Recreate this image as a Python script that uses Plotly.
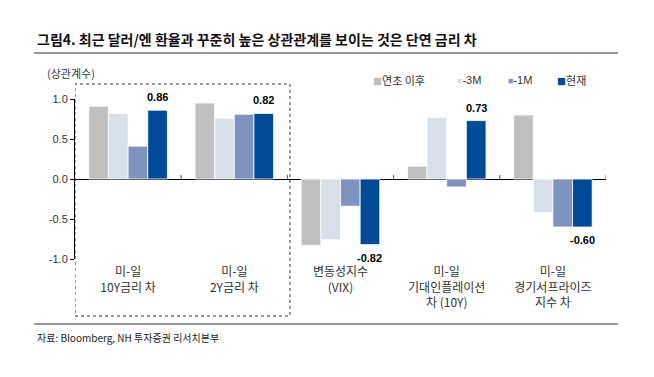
import plotly.graph_objects as go

categories = ["미-일<br>10Y금리 차", "미-일<br>2Y금리 차", "변동성지수<br>(VIX)",
              "미-일<br>기대인플레이션<br>차 (10Y)", "미-일<br>경기서프라이즈<br>지수 차"]
series_names = ["연초 이후", "-3M", "-1M", "현재"]
ytd = [0.91, 0.95, -0.83, 0.16, 0.80]
m3 = [0.82, 0.76, -0.76, 0.77, -0.42]
m1 = [0.41, 0.81, -0.34, -0.10, -0.60]
now = [0.86, 0.82, -0.82, 0.73, -0.60]
now_labels = ["0.86", "0.82", "-0.82", "0.73", "-0.60"]
yticks = [-1.0, -0.5, 0.0, 0.5, 1.0]
ytick_text = ["-1.0", "-0.5", "0.0", "0.5", "1.0"]

colors = ["#BFBFBF", "#D7DFE9", "#7F93BF", "#004A98"]
NFONT = "Liberation Sans, Arial, sans-serif"
KFONT = "Noto Sans CJK KR, sans-serif"

# reference pixel frame of plot area (page has an 8px body offset)
PX0, PX1, PY0, PY1 = 75, 606, 99, 259
BARGAP = 0.26


def px(v):
    return (v - PX0) / (PX1 - PX0)


def py(v):
    return (PY1 - v) / (PY1 - PY0)


x = list(range(len(categories)))
fig = go.Figure()
for name, vals, col in zip(series_names, [ytd, m3, m1, now], colors):
    fig.add_trace(go.Bar(x=x, y=vals, name=name,
                         marker=dict(color=col, line=dict(color="white", width=0.8)),
                         showlegend=False))

shapes = []
for b in [0.5, 1.5, 2.5, 3.5, 4.5]:
    shapes.append(dict(type="line", xref="x", yref="y", x0=b, x1=b, y0=0, y1=0.05,
                       line=dict(color="#555555", width=1)))
shapes.append(dict(type="rect", xref="x", yref="paper", x0=-0.5, x1=1.524, y0=py(316), y1=py(84),
                   line=dict(color="#333333", width=1, dash="dot")))
shapes.append(dict(type="line", xref="paper", yref="paper", x0=px(34), x1=px(618), y0=py(53), y1=py(53),
                   line=dict(color="#999999", width=2)))
shapes.append(dict(type="line", xref="paper", yref="paper", x0=px(34), x1=px(618), y0=py(324), y1=py(324),
                   line=dict(color="#999999", width=2)))

annotations = [
    dict(text="<b>그림4. 최근 달러/엔 환율과 꾸준히 높은 상관관계를 보이는 것은 단연 금리 차</b>",
         xref="paper", yref="paper", x=px(35), y=py(39), xanchor="left", yanchor="middle",
         showarrow=False, font=dict(family=KFONT, size=14, color="#111111")),
    dict(text="(상관계수)", xref="paper", yref="paper", x=px(45), y=py(73),
         xanchor="left", yanchor="middle", showarrow=False,
         font=dict(family=KFONT, size=11, color="#333333")),
    dict(text="자료: Bloomberg, NH 투자증권 리서치본부", xref="paper", yref="paper", x=px(35), y=py(337),
         xanchor="left", yanchor="middle", showarrow=False,
         font=dict(family=KFONT, size=10, color="#222222")),
]
leg_x = [371, 455, 506, 555]
for name, col, lx in zip(series_names, colors, leg_x):
    fam = NFONT if name.startswith("-") else KFONT
    annotations.append(dict(text=f"<span style='color:{col};font-size:9px'>■</span>{name}",
                            xref="paper", yref="paper", x=px(lx), y=py(80),
                            xanchor="left", yanchor="middle", showarrow=False,
                            font=dict(family=fam, size=11, color="#333333")))

# value labels on the last series (현재), placed at the bar ends
n_series = len(series_names)
bar_w = (1 - BARGAP) / n_series
off = -(1 - BARGAP) / 2 + bar_w * (n_series - 0.5)
for i, (v, lab) in enumerate(zip(now, now_labels)):
    annotations.append(dict(text=f"<b>{lab}</b>", xref="x", yref="y", x=i + off, y=v,
                            yshift=13 if v >= 0 else -13, xanchor="center", yanchor="middle",
                            showarrow=False, font=dict(family=NFONT, size=11, color="#000000")))

fig.update_layout(
    width=646, height=369,
    margin=dict(l=67, r=48, t=91, b=118),
    paper_bgcolor="white", plot_bgcolor="white",
    barmode="group", bargap=BARGAP, bargroupgap=0.0,
    shapes=shapes, annotations=annotations,
    xaxis=dict(tickmode="array", tickvals=x, ticktext=categories, range=[-0.5, 4.5],
               showline=False, showgrid=False, zeroline=False, ticks="",
               ticklabelstandoff=4,
               tickfont=dict(family=KFONT, size=12, color="#333333")),
    yaxis=dict(range=[-1.0, 1.0], tickvals=yticks, ticktext=ytick_text, showgrid=False,
               showline=True, linecolor="#000000", linewidth=1, ticks="outside", ticklen=4,
               tickcolor="#000000", zeroline=True, zerolinecolor="#000000", zerolinewidth=1,
               tickfont=dict(family=NFONT, size=11, color="#333333")),
)
fig.write_html("out.html")
